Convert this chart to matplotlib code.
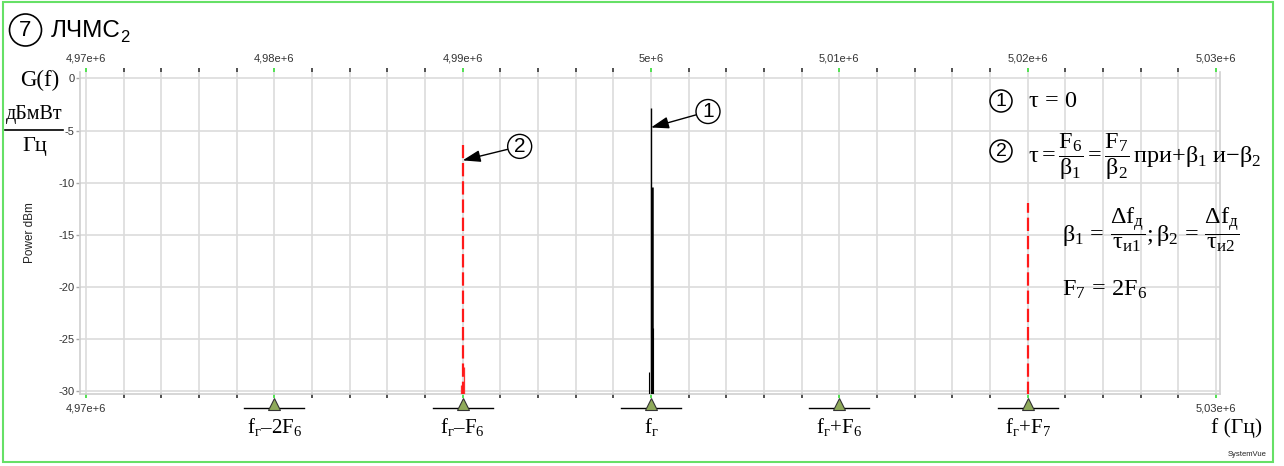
import numpy as np
import matplotlib
matplotlib.use("Agg")
import matplotlib.pyplot as plt
from matplotlib.patches import Circle, Rectangle
from matplotlib.lines import Line2D

plt.rcParams['font.family'] = ['Liberation Sans', 'DejaVu Sans']
plt.rcParams['mathtext.fontset'] = 'custom'
plt.rcParams['mathtext.rm'] = 'Liberation Serif'
plt.rcParams['mathtext.it'] = 'Liberation Serif:italic'
plt.rcParams['mathtext.bf'] = 'Liberation Serif:bold'

# --- data ---
x_min, x_max = 4.97e6, 5.03e6
major_ticks = [4.97e6, 4.98e6, 4.99e6, 5.00e6, 5.01e6, 5.02e6, 5.03e6]
major_labels = ['4,97e+6', '4,98e+6', '4,99e+6', '5e+6', '5,01e+6', '5,02e+6', '5,03e+6']
minor_step = 2e3
y_ticks = [0, -5, -10, -15, -20, -25, -30]

# spectral lines: frequency [Hz], level [dBm]
black_f = [5.00000e6, 5.00003e6, 5.00008e6, 4.99989e6]
black_top = [-2.8, -10.4, -23.9, -28.1]
black_lw = [1.0, 1.8, 0.8, 0.8]
red_f = [4.99000e6, 5.02000e6]
red_top = [-6.4, -11.9]
red_side_f = [4.99009e6, 4.98991e6]
red_side_top = [-27.7, -29.4]
floor = -30.3

# frequency markers under the axis
mark_f = [4.98e6, 4.99e6, 5.00e6, 5.01e6, 5.02e6]
mark_labels = [r'$\mathrm{f_{г}–2F_{6}}$', r'$\mathrm{f_{г}–F_{6}}$', r'$\mathrm{f_{г}}$',
               r'$\mathrm{f_{г}{+}F_{6}}$', r'$\mathrm{f_{г}{+}F_{7}}$']

W, H = 1284, 466
fig = plt.figure(figsize=(W / 100, H / 100), dpi=100)

# axes box in pixels: left 80, right 1220, top 72, bottom 394
L, R, T, B = 80, 1220, 72, 394
ax = fig.add_axes([L / W, 1 - B / H, (R - L) / W, (B - T) / H])
pxx = (x_max - x_min) / 1130.0
ax.set_xlim(x_min - 6 * pxx, x_max + 4 * pxx)
ax.set_ylim(-30.24, 0.62)

ax.set_xticks(major_ticks)
ax.set_xticks(np.arange(x_min, x_max + 1, minor_step), minor=True)
ax.set_xticklabels(major_labels)
ax.set_yticks(y_ticks)
ax.set_yticklabels([str(v) for v in y_ticks])
ax.xaxis.set_ticks_position('both')
ax.tick_params(axis='x', which='both', labeltop=True, labelbottom=False,
               direction='out', length=3, width=1.2)
ax.tick_params(axis='x', which='major', colors='#33dd33', labelcolor='#333333',
               labelsize=8, pad=3)
ax.tick_params(axis='x', which='minor', colors='#333333')
ax.tick_params(axis='y', direction='out', length=3, width=1, colors='#aaaaaa',
               labelcolor='#333333', labelsize=8, pad=1)
ax.grid(True, which='both', axis='x', color='#dcdcdc', lw=1.2)
ax.grid(True, which='major', axis='y', color='#dcdcdc', lw=1.2)
ax.set_axisbelow(True)
for s in ['left', 'right', 'bottom']:
    ax.spines[s].set_color('#d0d0d0')
    ax.spines[s].set_linewidth(1.2)
ax.spines['top'].set_visible(False)

ax.set_ylabel('Power dBm', fontsize=8.5, color='#222222')
ax.yaxis.set_label_coords(-0.039, 0.5)

# bottom end labels
xt = ax.get_xaxis_transform()
for f, lab in [(major_ticks[0], major_labels[0]), (major_ticks[-1], major_labels[-1])]:
    ax.text(f, -0.045, lab, transform=xt, ha='center', va='center', fontsize=8, color='#333333')

# spectrum lines
for f, t, lw in zip(black_f, black_top, black_lw):
    ax.vlines(f, floor, t, color='black', lw=lw, zorder=3)
for f, t in zip(red_side_f, red_side_top):
    ax.vlines(f, floor, t, color='#ff3030', lw=0.9, zorder=3)
for f, t in zip(red_f, red_top):
    ax.vlines(f, floor, t, color='#ff1a1a', lw=1.6, linestyles=(0, (6, 2.2)), zorder=3)

# markers under the axis
ax.plot(mark_f, [-0.031] * len(mark_f), ls='none', marker='^', ms=9,
        mfc='#8faa5a', mec='#333333', mew=0.8, transform=xt, clip_on=False, zorder=5)
for f, lab in zip(mark_f, mark_labels):
    ax.plot([f - 1600, f + 1600], [-0.0435, -0.0435], color='black', lw=1,
            transform=xt, clip_on=False)
    ax.text(f, -0.102, lab, transform=xt, ha='center', va='center', fontsize=15)

# callouts
circ = dict(boxstyle='circle,pad=0.12', fc='white', ec='black', lw=1)
arrow = dict(arrowstyle='-|>,head_length=0.9,head_width=0.3', color='black', lw=1,
             shrinkA=0, shrinkB=0, mutation_scale=12)
ax.annotate('1', xy=(5.00000e6, -4.7), xytext=(57, 16), textcoords='offset pixels',
            ha='center', va='center', fontsize=15, bbox=circ, arrowprops=arrow, zorder=6)
ax.annotate('2', xy=(4.99000e6, -7.85), xytext=(57, 14), textcoords='offset pixels',
            ha='center', va='center', fontsize=15, bbox=circ, arrowprops=arrow, zorder=6)

# overlay in pixel coordinates
ov = fig.add_axes([0, 0, 1, 1], facecolor='none')
ov.set_xlim(0, W)
ov.set_ylim(H, 0)
ov.axis('off')
ov.add_patch(Rectangle((3, 2), 1270, 460, fill=False, ec='#66e066', lw=1.5))

ov.add_patch(Circle((25.5, 30), 16, fill=False, ec='black', lw=1.2))
ov.text(25.5, 31, '7', ha='center', va='center', fontsize=16)
ov.text(51, 31, 'ЛЧМС', ha='left', va='center', fontsize=17.5)
ov.text(120, 37, '2', ha='left', va='center', fontsize=12)

ov.text(40, 80, 'G(f)', ha='center', va='center', fontsize=16.5, family='Liberation Serif')
ov.text(34, 114, 'дБмВт', ha='center', va='center', fontsize=14.5, family='Liberation Serif')
ov.add_line(Line2D([5, 63], [129.5, 129.5], color='black', lw=1.2))
ov.text(35, 146, 'Гц', ha='center', va='center', fontsize=16, family='Liberation Serif')

ov.text(1262, 428, 'f (Гц)', ha='right', va='center', fontsize=15.5, family='Liberation Serif')
ov.text(1267, 455, 'SystemVue', ha='right', va='center', fontsize=5.5, color='#222222')

# formulas
for cy, num in [(101, '1'), (151, '2')]:
    ov.add_patch(Circle((1001, cy), 11, fill=False, ec='black', lw=1.1))
    ov.text(1001, cy + 1, num, ha='center', va='center', fontsize=14)
fs = 17.5
ov.text(1028, 101, r'$\mathrm{\tau\,{=}\,0}$', ha='left', va='center', fontsize=fs)
ov.text(1028, 157, r'$\mathrm{\tau{=}\dfrac{F_{6}}{\beta_{1}}{=}\dfrac{F_{7}}{\beta_{2}}\,при{+}\beta_{1}\ и{-}\beta_{2}}$',
        ha='left', va='center', fontsize=fs)
ov.text(1062, 230, r'$\mathrm{\beta_{1}\,{=}\,\dfrac{\Delta f_{д}}{\tau_{и1}};\beta_{2}\,{=}\,\dfrac{\Delta f_{д}}{\tau_{и2}}}$',
        ha='left', va='center', fontsize=fs)
ov.text(1062, 290, r'$\mathrm{F_{7}\,{=}\,2F_{6}}$', ha='left', va='center', fontsize=fs)

fig.savefig('out.png', dpi=100)
